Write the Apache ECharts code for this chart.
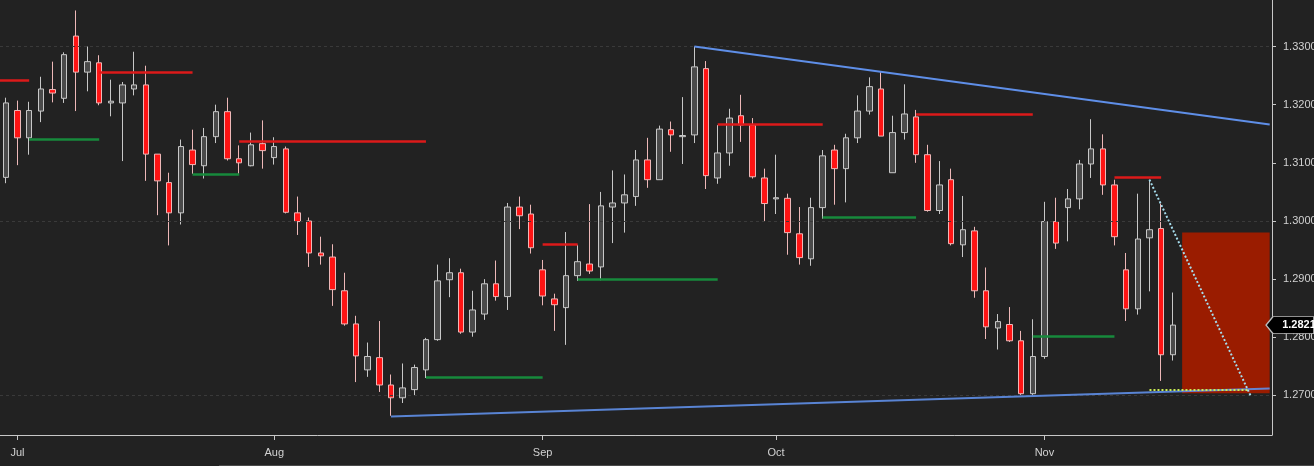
<!DOCTYPE html>
<html><head><meta charset="utf-8">
<script src="https://cdn.jsdelivr.net/npm/echarts@6/dist/echarts.min.js"></script>
<style>html,body{margin:0;padding:0;background:#222222;}#c{width:1314px;height:466px;}</style>
</head><body><div id="c"></div>
<script>
// Trading-day categories (last 8 are empty future slots)
const dates = [
 '2018-06-29',
 '2018-07-02','2018-07-03','2018-07-04','2018-07-05','2018-07-06','2018-07-09','2018-07-10','2018-07-11','2018-07-12','2018-07-13',
 '2018-07-16','2018-07-17','2018-07-18','2018-07-19','2018-07-20','2018-07-23','2018-07-24','2018-07-25','2018-07-26','2018-07-27','2018-07-30','2018-07-31',
 '2018-08-01','2018-08-02','2018-08-03','2018-08-06','2018-08-07','2018-08-08','2018-08-09','2018-08-10','2018-08-13','2018-08-14','2018-08-15','2018-08-16',
 '2018-08-17','2018-08-20','2018-08-21','2018-08-22','2018-08-23','2018-08-24','2018-08-27','2018-08-28','2018-08-29','2018-08-30','2018-08-31',
 '2018-09-03','2018-09-04','2018-09-05','2018-09-06','2018-09-07','2018-09-10','2018-09-11','2018-09-12','2018-09-13','2018-09-14',
 '2018-09-17','2018-09-18','2018-09-19','2018-09-20','2018-09-21','2018-09-24','2018-09-25','2018-09-26','2018-09-27','2018-09-28',
 '2018-10-01','2018-10-02','2018-10-03','2018-10-04','2018-10-05','2018-10-08','2018-10-09','2018-10-10','2018-10-11','2018-10-12','2018-10-15','2018-10-16',
 '2018-10-17','2018-10-18','2018-10-19','2018-10-22','2018-10-23','2018-10-24','2018-10-25','2018-10-26','2018-10-29','2018-10-30','2018-10-31',
 '2018-11-01','2018-11-02','2018-11-05','2018-11-06','2018-11-07','2018-11-08','2018-11-09','2018-11-12','2018-11-13','2018-11-14','2018-11-15','2018-11-16',
 '2018-11-19','2018-11-20','2018-11-21','2018-11-22','2018-11-23','2018-11-26','2018-11-27','2018-11-28'
];
const monthNames = {'07':'Jul','08':'Aug','09':'Sep','10':'Oct','11':'Nov'};

// [open, close, low, high]
const ohlc = [
 [1.3075,1.3203,1.3065,1.3212],[1.3190,1.3143,1.3096,1.3207],[1.3143,1.3190,1.3114,1.3205],[1.3189,1.3227,1.3170,1.3248],
 [1.3226,1.3220,1.3204,1.3274],[1.3211,1.3286,1.3203,1.3290],[1.3318,1.3256,1.3189,1.3362],[1.3256,1.3274,1.3223,1.3300],
 [1.3272,1.3203,1.3199,1.3285],[1.3203,1.3206,1.3180,1.3243],[1.3203,1.3234,1.3103,1.3239],[1.3227,1.3234,1.3216,1.3291],
 [1.3234,1.3115,1.3069,1.3267],[1.3115,1.3069,1.3010,1.3115],[1.3066,1.3014,1.2958,1.3083],[1.3014,1.3128,1.2994,1.3140],
 [1.3122,1.3097,1.3081,1.3157],[1.3095,1.3145,1.3073,1.3160],[1.3145,1.3188,1.3134,1.3200],[1.3188,1.3107,1.3104,1.3212],
 [1.3107,1.3100,1.3081,1.3130],[1.3095,1.3131,1.3094,1.3152],[1.3133,1.3121,1.3090,1.3173],[1.3109,1.3128,1.3097,1.3144],
 [1.3124,1.3015,1.3013,1.3128],[1.3014,1.2999,1.2976,1.3042],[1.3000,1.2945,1.2921,1.3006],[1.2945,1.2940,1.2925,1.2973],
 [1.2938,1.2882,1.2854,1.2960],[1.2880,1.2823,1.2820,1.2911],[1.2823,1.2768,1.2723,1.2837],[1.2744,1.2767,1.2732,1.2791],
 [1.2765,1.2718,1.2706,1.2828],[1.2718,1.2696,1.2665,1.2736],[1.2696,1.2713,1.2687,1.2755],[1.2710,1.2748,1.2700,1.2753],
 [1.2744,1.2796,1.2730,1.2799],[1.2796,1.2897,1.2794,1.2925],[1.2899,1.2911,1.2869,1.2936],[1.2911,1.2809,1.2806,1.2918],
 [1.2809,1.2847,1.2801,1.2880],[1.2840,1.2892,1.2830,1.2900],[1.2892,1.2870,1.2863,1.2932],[1.2870,1.3024,1.2847,1.3031],
 [1.3024,1.3009,1.2986,1.3042],[1.3012,1.2954,1.2944,1.3028],[1.2916,1.2871,1.2855,1.2933],[1.2866,1.2856,1.2811,1.2875],
 [1.2851,1.2906,1.2787,1.2981],[1.2906,1.2930,1.2897,1.2959],[1.2926,1.2914,1.2909,1.3029],[1.2921,1.3026,1.2898,1.3050],
 [1.3024,1.3031,1.2962,1.3087],[1.3031,1.3045,1.2980,1.3080],[1.3042,1.3105,1.3026,1.3122],[1.3105,1.3071,1.3057,1.3143],
 [1.3071,1.3158,1.3071,1.3164],[1.3157,1.3148,1.3119,1.3171],[1.3145,1.3147,1.3098,1.3213],[1.3148,1.3265,1.3134,1.3300],
 [1.3262,1.3078,1.3055,1.3275],[1.3074,1.3117,1.3064,1.3165],[1.3117,1.3177,1.3095,1.3193],[1.3181,1.3165,1.3136,1.3217],
 [1.3165,1.3076,1.3073,1.3177],[1.3074,1.3030,1.3000,1.3090],[1.3038,1.3040,1.3012,1.3114],[1.3039,1.2980,1.2942,1.3047],
 [1.2978,1.2937,1.2925,1.3024],[1.2935,1.3023,1.2923,1.3040],[1.3023,1.3112,1.3004,1.3122],[1.3122,1.3090,1.3028,1.3131],
 [1.3090,1.3143,1.3032,1.3150],[1.3143,1.3189,1.3134,1.3216],[1.3189,1.3231,1.3183,1.3247],[1.3227,1.3146,1.3146,1.3256],
 [1.3083,1.3152,1.3083,1.3181],[1.3152,1.3184,1.3140,1.3235],[1.3179,1.3114,1.3100,1.3191],[1.3114,1.3018,1.3016,1.3131],
 [1.3018,1.3062,1.3012,1.3103],[1.3071,1.2961,1.2958,1.3090],[1.2959,1.2985,1.2938,1.3043],[1.2983,1.2880,1.2868,1.2990],
 [1.2880,1.2818,1.2797,1.2920],[1.2816,1.2827,1.2779,1.2840],[1.2822,1.2794,1.2792,1.2852],[1.2794,1.2703,1.2701,1.2811],
 [1.2703,1.2767,1.2701,1.2831],[1.2767,1.2999,1.2763,1.3033],[1.2999,1.2962,1.2952,1.3040],[1.3023,1.3038,1.2965,1.3055],
 [1.3038,1.3098,1.3020,1.3105],[1.3098,1.3124,1.3074,1.3175],[1.3124,1.3062,1.3045,1.3149],[1.3062,1.2973,1.2958,1.3071],
 [1.2916,1.2849,1.2828,1.2945],[1.2849,1.2969,1.2839,1.3047],[1.2971,1.2985,1.2879,1.3071],[1.2987,1.2770,1.2725,1.3030],
 [1.2770,1.2821,1.2760,1.2877]
];

// horizontal level segments: [fromIndex, toIndex, price]
const resistance = [[-0.5,2,1.3242],[8,16,1.3256],[20,36,1.3137],[46,49,1.2960],[61,70,1.3166],[78,88,1.3183],[95,99,1.3075]];
const support = [[2,8,1.3141],[16,20,1.3081],[36,46,1.2731],[49,61,1.2900],[70,78,1.3007],[88,95,1.2802]];
// trend lines: [[index, price], [index, price]]
const upperTrend = [[59,1.3300],[108.3,1.3166]];
const lowerTrend = [[33,1.2664],[108.3,1.2712]];
const projection = [[98,1.3071],[106.7,1.2698]];
const targetLine = [98,106.5,1.2709];
const targetZone = [[100.8,1.2980],[108.3,1.2704]];
const lastPrice = 1.2821;
const priceTicks = [1.27,1.28,1.29,1.30,1.31,1.32,1.33];
const gridValues = [1.27,1.30,1.33];

const isMonthStart = (i) => i > 0 && dates[i] && dates[i].slice(5,7) !== dates[i-1].slice(5,7);
const seg = (a, b, style) => { const d = [{coord: a}, {coord: b}]; d[0].lineStyle = style; return d; };
const FONT = 'Liberation Sans, Arial, sans-serif';

const chart = echarts.init(document.getElementById('c'));
chart.setOption({
  backgroundColor: '#222222',
  animation: false,
  grid: {left: 0, top: 0, width: 1272, height: 435, containLabel: false, outerBoundsMode: 'none'},
  xAxis: [{
    type: 'category', data: dates, boundaryGap: true,
    axisLine: {show: true, onZero: false, lineStyle: {color: '#c8c8c8', width: 1}},
    axisTick: {show: true, alignWithLabel: true, length: 5, interval: (i) => isMonthStart(i), lineStyle: {color: '#c8c8c8'}},
    axisLabel: {interval: (i) => isMonthStart(i), formatter: (v) => monthNames[v.slice(5,7)] || '',
      color: '#d2d2d2', fontSize: 11, fontFamily: FONT, margin: 12},
    splitLine: {show: false}
  }, {
    type: 'value', min: -0.5, max: 108.5, show: false,
    axisLine: {show: false, onZero: false}, axisTick: {show: false}, axisLabel: {show: false}, splitLine: {show: false}
  }],
  yAxis: {
    type: 'value', position: 'right', min: 1.2632, max: 1.3380, scale: true,
    axisLine: {show: true, onZero: false, lineStyle: {color: '#c8c8c8', width: 1}},
    axisTick: {show: true, length: 4, customValues: priceTicks, lineStyle: {color: '#c8c8c8'}},
    axisLabel: {customValues: priceTicks, formatter: (v) => v.toFixed(4), color: '#d2d2d2', fontSize: 11, fontFamily: FONT, margin: 11},
    splitLine: {show: false}
  },
  series: [
    { // target zone
      type: 'line', xAxisIndex: 1, data: [], z: 1, silent: true,
      markArea: {silent: true, itemStyle: {color: '#9a1c00'}, data: [[{coord: targetZone[0]}, {coord: targetZone[1]}]]}
    },
    { // dashed grid
      type: 'line', xAxisIndex: 1, data: [], z: 1, silent: true,
      markLine: {silent: true, symbol: ['none','none'], label: {show: false},
        lineStyle: {color: '#3a3a3a', type: [3,3], width: 1},
        data: gridValues.map(v => ({yAxis: v}))}
    },
    { // pivot levels
      type: 'line', xAxisIndex: 1, data: [], z: 2, silent: true,
      markLine: {silent: true, symbol: ['none','none'], label: {show: false},
        data: resistance.map(r => seg([r[0], r[2]], [r[1], r[2]], {color: '#dc1a1a', width: 2.5, type: 'solid'}))
          .concat(support.map(s => seg([s[0], s[2]], [s[1], s[2]], {color: '#178a3c', width: 2.5, type: 'solid'})))}
    },
    {
      type: 'candlestick', xAxisIndex: 0, data: ohlc, barWidth: 6, z: 3,
      itemStyle: {color: '#4a4a4a', color0: '#ff1414', borderColor: '#c8c8c8', borderColor0: '#eeb8b8', borderWidth: 1}
    },
    { // trend lines & projections
      type: 'line', xAxisIndex: 1, data: [], z: 4, silent: true,
      markLine: {silent: true, symbol: ['none','none'], label: {show: false},
        data: [
          seg(upperTrend[0], upperTrend[1], {color: '#5f8fe8', width: 2, type: 'solid'}),
          seg(lowerTrend[0], lowerTrend[1], {color: '#5f8fe8', width: 2, type: 'solid', opacity: 0.9}),
          seg([targetLine[0], targetLine[2]], [targetLine[1], targetLine[2]], {color: '#cdee52', width: 2, type: [2,2]}),
          seg(projection[0], projection[1], {color: '#a6dcec', width: 2, type: [2,2]})
        ]},
      markPoint: {silent: true, data: [{
        coord: [100, lastPrice], x: 1290,
        symbol: 'path://M0,8.5L7,0L48,0L48,17L7,17Z', symbolSize: [48,17], symbolKeepAspect: false,
        itemStyle: {color: '#000000', borderColor: '#bbbbbb', borderWidth: 1},
        label: {show: true, position: 'inside', formatter: lastPrice.toFixed(4), color: '#ffffff', fontWeight: 'bold', fontSize: 11, fontFamily: FONT, offset: [9, 0]}
      }]}
    }
  ],
  graphic: [{type: 'rect', shape: {x: 219, y: 465, width: 1095, height: 1}, style: {fill: '#4a4a4a'}, silent: true}]
});
</script>
</body></html>
